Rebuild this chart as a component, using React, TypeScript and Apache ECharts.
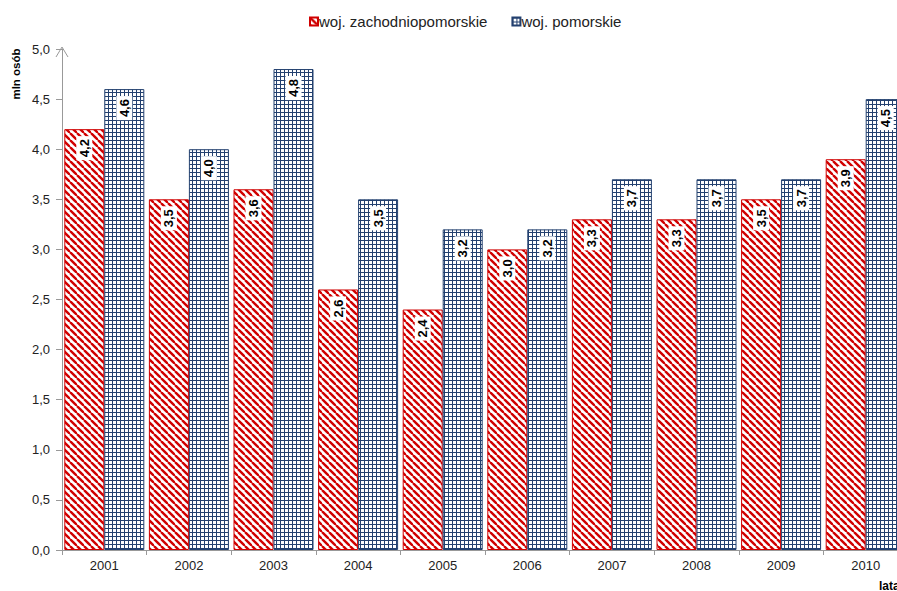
import React, { useEffect, useRef } from "react";
import * as echarts from "echarts";

const years = ["2001", "2002", "2003", "2004", "2005", "2006", "2007", "2008", "2009", "2010"];
const zachodniopomorskie = [4.2, 3.5, 3.6, 2.6, 2.4, 3.0, 3.3, 3.3, 3.5, 3.9];
const pomorskie = [4.6, 4.0, 4.8, 3.5, 3.2, 3.2, 3.7, 3.7, 3.7, 4.5];
const seriesNames = ["woj. zachodniopomorskie", "woj. pomorskie"];

const RED = "#D00000";
const NAVY = "#23406F";
const FONT = "Liberation Sans, Arial, sans-serif";

function stripePattern(): HTMLCanvasElement {
  const s = 7;
  const c = document.createElement("canvas");
  c.width = s;
  c.height = s;
  const ctx = c.getContext("2d")!;
  ctx.fillStyle = "#ffffff";
  ctx.fillRect(0, 0, s, s);
  ctx.strokeStyle = RED;
  ctx.lineWidth = 2.4;
  for (const k of [-s, 0, s]) {
    ctx.beginPath();
    ctx.moveTo(k, 0);
    ctx.lineTo(k + s, s);
    ctx.stroke();
  }
  return c;
}

function gridPattern(): HTMLCanvasElement {
  const s = 4;
  const c = document.createElement("canvas");
  c.width = s;
  c.height = s;
  const ctx = c.getContext("2d")!;
  ctx.fillStyle = "#ffffff";
  ctx.fillRect(0, 0, s, s);
  ctx.fillStyle = NAVY;
  ctx.fillRect(0, 0, s, 1);
  ctx.fillRect(0, 0, 1, s);
  return c;
}

const fmt = (v: number) => v.toFixed(1).replace(".", ",");

export default function App() {
  const ref = useRef<HTMLDivElement>(null);
  useEffect(() => {
    if (!ref.current) return;
    const chart = echarts.init(ref.current, undefined, { renderer: "svg" });
    const redPat = { image: stripePattern(), repeat: "repeat" };
    const bluePat = { image: gridPattern(), repeat: "repeat" };
    const label = {
      show: true,
      position: ["50%", 19],
      align: "center",
      verticalAlign: "middle",
      rotate: 90,
      formatter: (p: any) => fmt(p.value),
      color: "#000",
      fontWeight: "bold",
      fontSize: 13,
      fontFamily: FONT,
      backgroundColor: "#fff",
      padding: [2, 3, 1, 3],
    };
    chart.setOption({
      animation: false,
      textStyle: { fontFamily: FONT },
      legend: {
        top: 9,
        left: 304,
        itemWidth: 8,
        itemHeight: 8,
        itemGap: 24,
        icon: "rect",
        textStyle: { fontSize: 15, color: "#222", padding: [0, 0, 0, -4] },
        data: seriesNames,
      },
      grid: { left: 62, top: 49, width: 846, height: 501, containLabel: false },
      xAxis: {
        type: "category",
        data: years,
        axisLine: { lineStyle: { color: "#999" } },
        axisTick: { show: true, length: 5, lineStyle: { color: "#999" } },
        axisLabel: { color: "#222", fontSize: 13, margin: 9 },
      },
      yAxis: {
        type: "value",
        min: 0,
        max: 5,
        interval: 0.5,
        splitLine: { show: false },
        axisLine: { show: true, lineStyle: { color: "#999" } },
        axisTick: { show: true, length: 6, lineStyle: { color: "#999" } },
        axisLabel: { color: "#222", fontSize: 13, margin: 12, formatter: (v: number) => fmt(v) },
      },
      graphic: [
        {
          type: "polyline",
          shape: { points: [[56, 57], [62, 47], [68, 57]] },
          style: { stroke: "#999", lineWidth: 1, fill: "none" },
        },
        {
          type: "text",
          x: 16,
          y: 74,
          rotation: Math.PI / 2,
          style: {
            text: "mln osób",
            fontWeight: "bold",
            fontSize: 11.5,
            fill: "#000",
            align: "center",
            verticalAlign: "middle",
            fontFamily: FONT,
          },
        },
        {
          type: "text",
          x: 879,
          y: 580,
          style: {
            text: "lata",
            fontWeight: "bold",
            fontSize: 12,
            fill: "#000",
            fontFamily: FONT,
          },
        },
      ],
      series: [
        {
          name: seriesNames[0],
          type: "bar",
          data: zachodniopomorskie,
          barWidth: 40,
          barGap: "0%",
          itemStyle: { color: redPat, borderColor: RED, borderWidth: 1 },
          label,
        },
        {
          name: seriesNames[1],
          type: "bar",
          data: pomorskie,
          barWidth: 40,
          barGap: "0%",
          itemStyle: { color: bluePat, borderColor: NAVY, borderWidth: 1 },
          label,
        },
      ],
    });
    return () => chart.dispose();
  }, []);
  return (
    <div
      style={{ position: "fixed", left: 0, top: 0, width: 897, height: 591, overflow: "hidden", background: "#fff" }}
    >
      <div ref={ref} style={{ width: 930, height: 591 }} />
    </div>
  );
}
